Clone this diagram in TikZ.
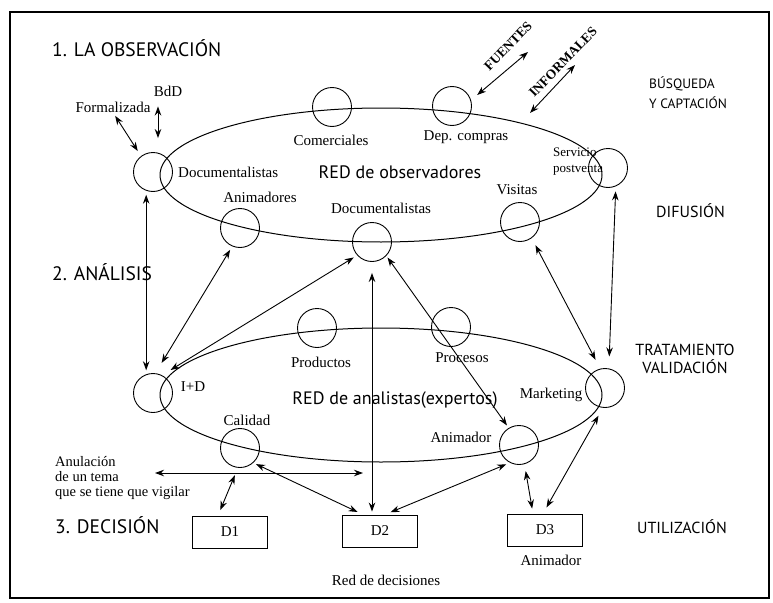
\documentclass[tikz,border=0pt]{standalone}
\usepackage{fontspec}
\setmainfont{Liberation Serif}
\newfontfamily\headfont{PT Sans}
\usetikzlibrary{arrows.meta,calc}
\begin{document}
\begin{tikzpicture}[x=1pt,y=-1pt,
  actor/.style={circle,draw,line width=0.9pt,minimum size=39pt,inner sep=0pt},
  lbl/.style={inner sep=0pt,font=\fontsize{15}{15}\selectfont},
  head/.style={inner sep=0pt,anchor=west,font=\headfont\fontsize{19.5}{21}\selectfont},
  side/.style={inner sep=0pt,font=\headfont\fontsize{16}{18}\selectfont},
  net/.style={inner sep=0pt,font=\headfont\fontsize{18}{20}\selectfont},
  dbox/.style={draw,line width=0.9pt,minimum width=75pt,minimum height=32pt,inner sep=0pt,font=\fontsize{15}{15}\selectfont},
  src/.style={inner sep=0pt,font=\bfseries\fontsize{13.5}{13.5}\selectfont,rotate=46},
  dbl/.style={{Stealth[length=9pt,width=6.5pt]}-{Stealth[length=9pt,width=6.5pt]},line width=0.9pt,shorten <=4pt,shorten >=4pt},
  ring/.style={line width=1pt}]
\useasboundingbox (0,0) rectangle (773,602);
\fill[white] (0,0) rectangle (773,602);
% outer frame
\draw[line width=1.5pt] (10,12) rectangle (769,598);

% the two networks
\draw[ring] (381,175) ellipse [x radius=221, y radius=67];
\draw[ring] (381,395) ellipse [x radius=221, y radius=67];

% section titles
\node[head] (t1) at (52,48) {1. LA OBSERVACIÓN};
\node[head] (t2) at (52,272) {2. ANÁLISIS};
\node[head] (t3) at (55,525) {3. DECISIÓN};

% stage labels on the right
\node[side,align=left,anchor=west,font=\headfont\fontsize{13.5}{20}\selectfont] (s1) at (649,93) {BÚSQUEDA\\Y CAPTACIÓN};
\node[side,anchor=west] (s2) at (656,211) {DIFUSIÓN};
\node[side,align=center] (s3) at (685,359) {TRATAMIENTO\\VALIDACIÓN};
\node[side] (s4) at (682,527) {UTILIZACIÓN};

% observers network
\node[actor] (docL) at (153,172) {};
\node[actor] (com) at (332,107) {};
\node[actor] (dep) at (452,106) {};
\node[actor] (serv) at (608,168) {};
\node[actor] (vis) at (520,222) {};
\node[actor] (anim) at (240,228) {};
\node[actor] (docM) at (372,242) {};

\node[lbl] (formal) at (113,107) {Formalizada};
\node[lbl] (bdd) at (168,91) {BdD};
\node[lbl,anchor=west] (docLl) at (178,172) {Documentalistas};
\node[lbl] (coml) at (331,140) {Comerciales};
\node[lbl] (depl) at (466,137) {Dep. compras};
\node[net] (red1) at (400,172) {RED de observadores};
\node[lbl,align=left,anchor=west,font=\fontsize{13}{16}\selectfont] (servl) at (553,162) {Servicio\\postventa};
\node[lbl] (visl) at (517,190) {Visitas};
\node[lbl] (animl) at (260,197) {Animadores};
\node[lbl] (docMl) at (381,208) {Documentalistas};

% informal sources
\coordinate (fTop) at (528,52);
\coordinate (iBot) at (530,113);
\coordinate (iTop) at (575,65);
\node[src] (fuentes) at (508,46) {FUENTES};
\node[src] (informales) at (563,62) {INFORMALES};

% analysts network
\node[actor] (ID) at (153,393) {};
\node[actor] (prod) at (317,328) {};
\node[actor] (proc) at (451,327) {};
\node[actor] (mkt) at (605,388) {};
\node[actor] (cal) at (240,448) {};
\node[actor] (animA) at (519,445) {};

\node[lbl] (IDl) at (193,387) {I+D};
\node[lbl] (prodl) at (321,362) {Productos};
\node[lbl] (procl) at (462,358) {Procesos};
\node[net] (red2) at (395,400) {RED de analistas(expertos)};
\node[lbl] (mktl) at (551,395) {Marketing};
\node[lbl] (call) at (247,420) {Calidad};
\node[lbl] (animAl) at (461,437) {Animador};

% decisions
\node[dbox] (D1) at (230,532) {D1};
\node[dbox] (D2) at (380,531) {D2};
\node[dbox] (D3) at (545,530) {D3};
\node[lbl] (redd) at (386,580) {Red de decisiones};
\node[lbl] (animD) at (551,560) {Animador};
\node[lbl,align=left,anchor=west,font=\fontsize{14.5}{15}\selectfont] (anul) at (55,478) {Anulación\\de un tema\\que se tiene que vigilar};
\coordinate (anulL) at (155,473);
\coordinate (anulR) at (363,473);

% connectors around the observers
\draw[dbl,shorten >=6pt] (formal.south) -- (docL.127);
\draw[dbl,shorten <=10pt,shorten >=14pt] ($(bdd.south)+(-10,0)$) -- ($(docL.north)+(5,0)$);
\draw[dbl,shorten <=8pt,shorten >=0pt] (dep.17) -- (fTop);
\draw[dbl,shorten <=0pt,shorten >=0pt] (iBot) -- (iTop);

% observers <-> analysts
\draw[dbl] (docL.-110) -- (ID.110);
\draw[dbl,shorten >=12pt] (anim.-113) -- (ID.83);
\draw[dbl,shorten >=10pt] (docM.-138) -- (ID.63);
\draw[dbl,shorten <=11pt,shorten >=3pt] (docM.south) -- (docM.south |- D2.north);
\draw[dbl,shorten <=2pt,shorten >=3pt] (docM.-44) -- (animA.121);
\draw[dbl,shorten <=8pt,shorten >=10pt] (vis.-54) -- (mkt.104);
\draw[dbl,shorten <=5pt,shorten >=12pt] (serv.-67) -- (mkt.79);

% analysts <-> decisions
\draw[dbl,shorten <=0pt,shorten >=0pt] (anulL) -- (anulR);
\draw[dbl,shorten <=8pt,shorten >=6pt] (cal.-96) -- ($(D1.north)+(-12,0)$);
\draw[dbl,shorten <=3pt,shorten >=6pt] (cal.-48) -- ($(D2.north)+(-17,0)$);
\draw[dbl,shorten <=4pt,shorten >=6pt] (animA.-117) -- ($(D2.north)+(5,0)$);
\draw[dbl,shorten <=7pt,shorten >=5pt] (animA.-74) -- ($(D3.north)+(-12,0)$);
\draw[dbl,shorten <=9pt,shorten >=7pt] (mkt.-96) -- ($(D3.north)+(-2,0)$);
\end{tikzpicture}
\end{document}
